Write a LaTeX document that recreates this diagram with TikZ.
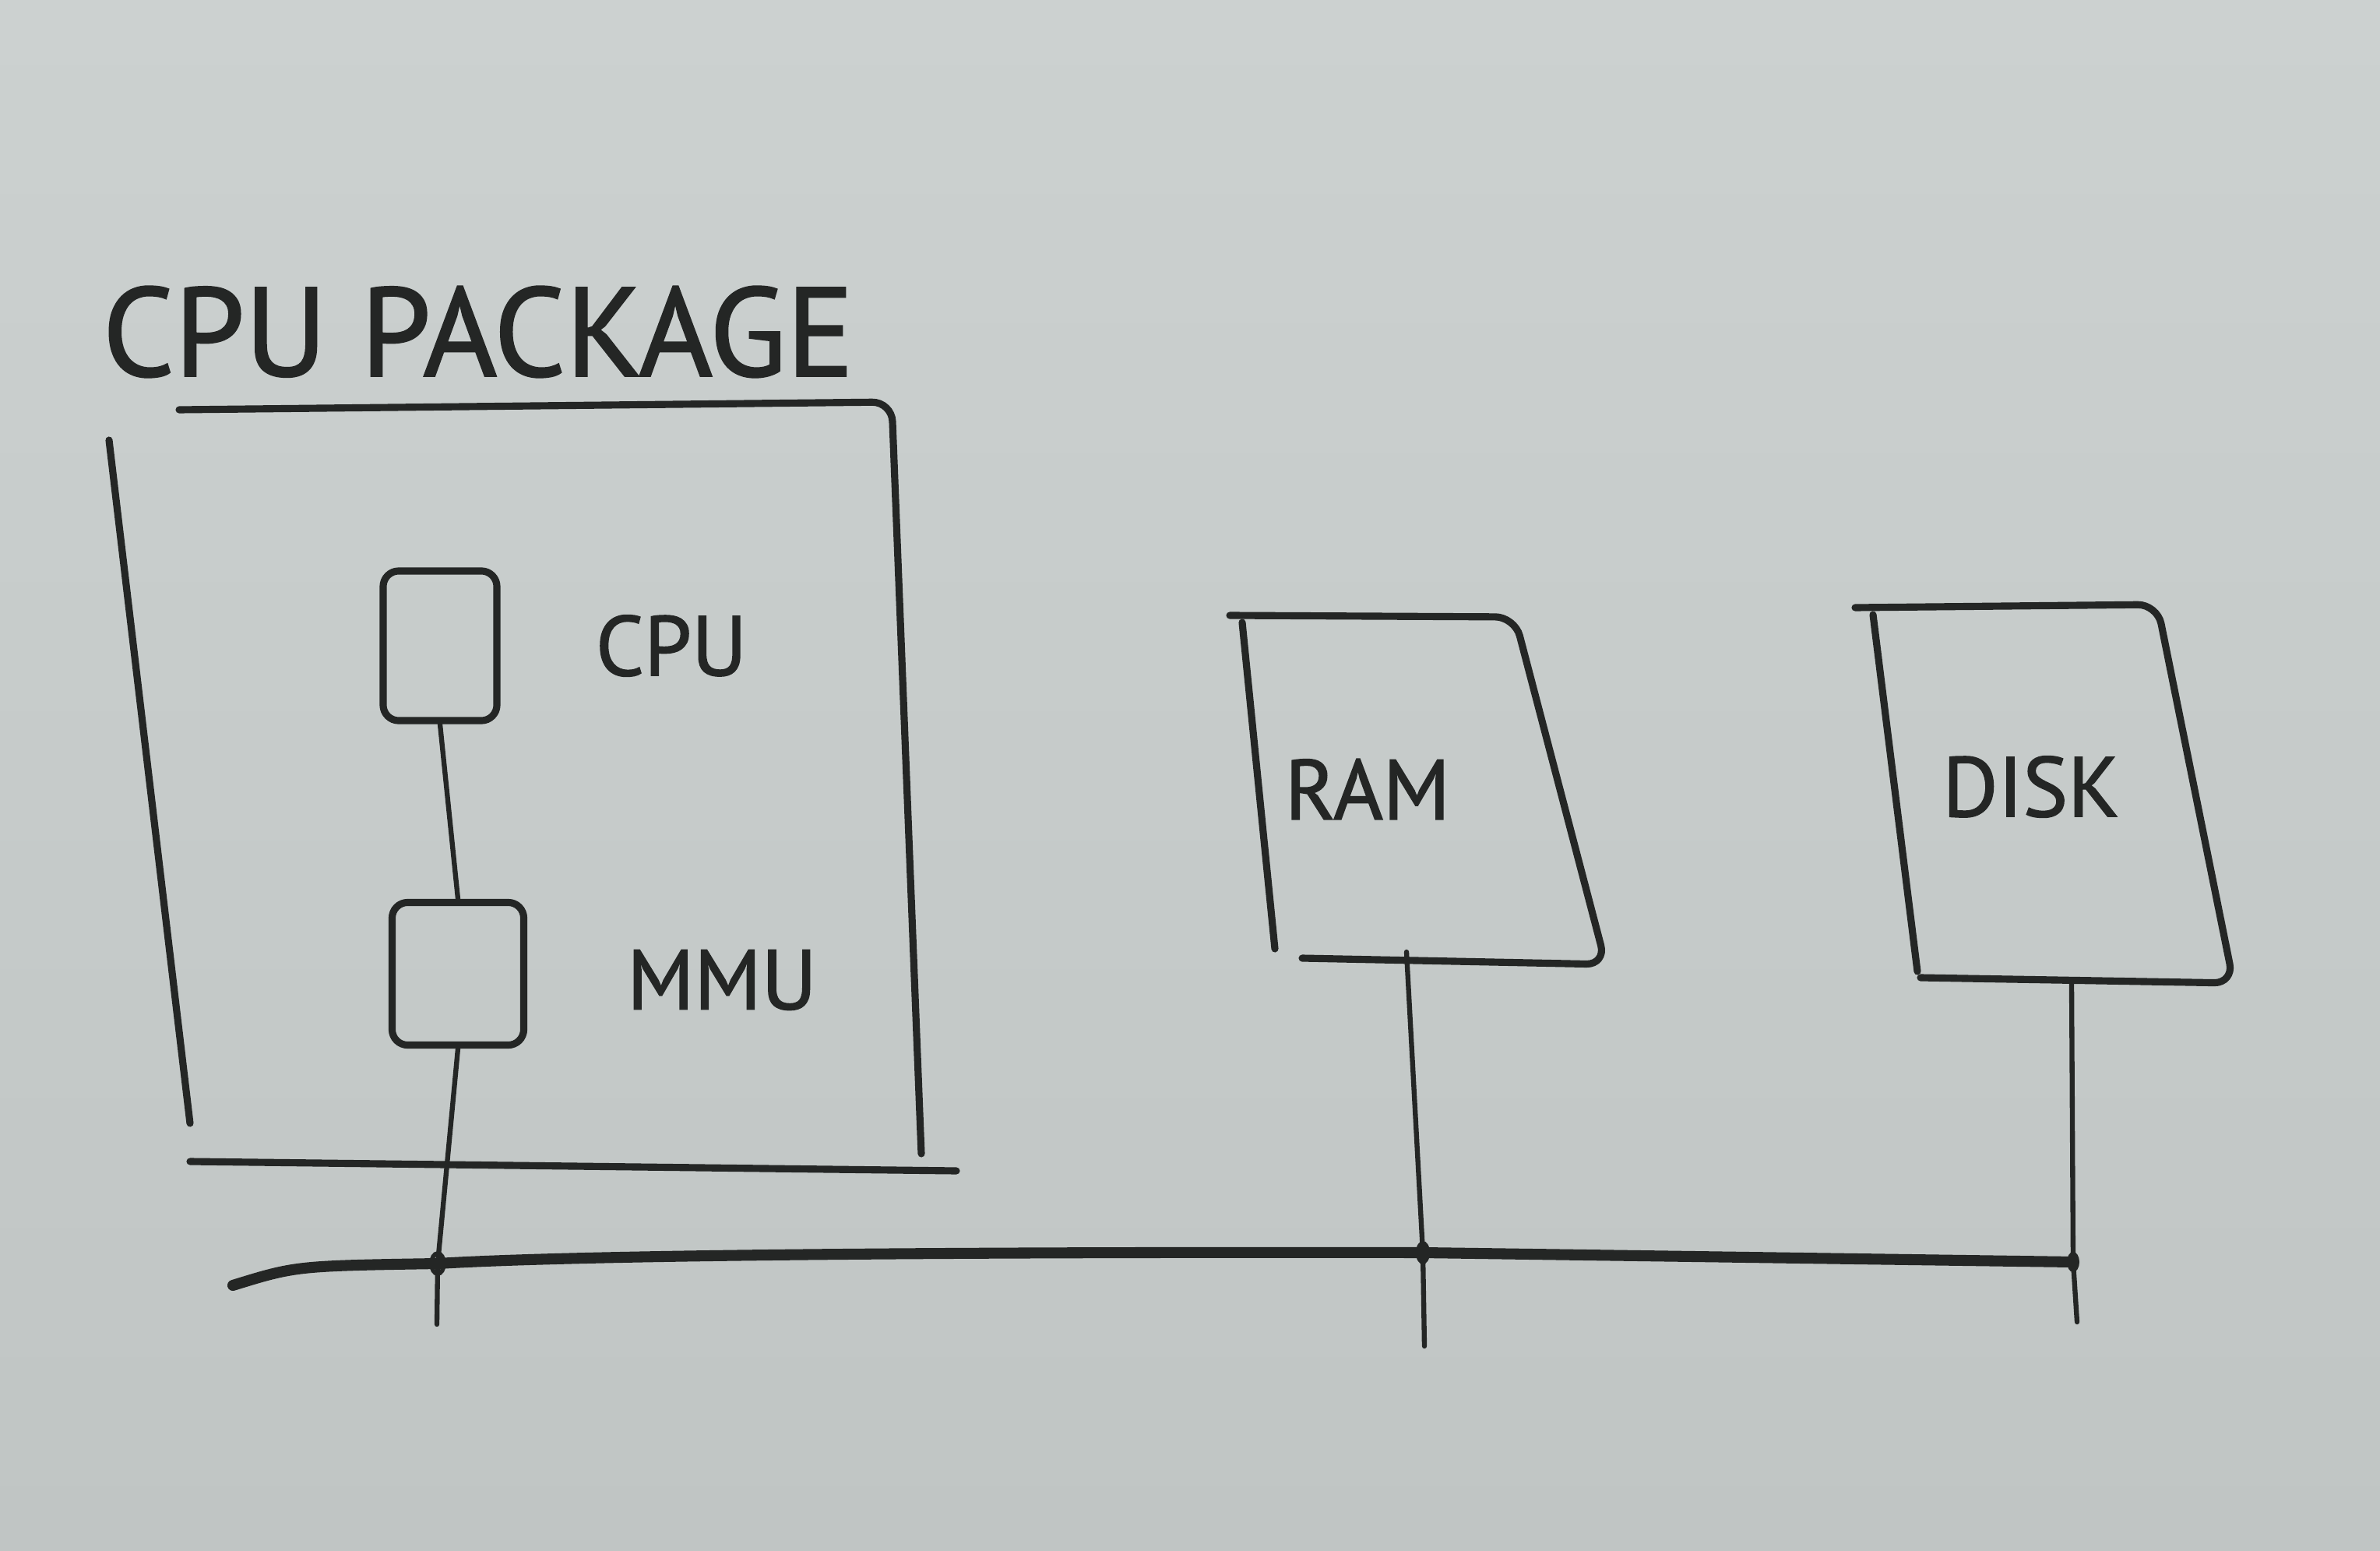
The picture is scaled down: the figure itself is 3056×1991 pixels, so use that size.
\documentclass[tikz,border=0pt]{standalone}
\usepackage{fontspec}
\setmainfont{PT Sans}
\newfontfamily\penfont{PT Sans}[FakeBold=1.4]
\usepackage{xcolor}
\usepackage{tikz}

\definecolor{boardtop}{RGB}{204,209,208}
\definecolor{boardbot}{RGB}{192,197,196}
\definecolor{marker}{RGB}{36,38,37}

\tikzset{
    pen/.style={draw=marker, line width=2.6pt, line cap=round, line join=round, rounded corners=0.25cm},
    wire/.style={draw=marker, line width=1.8pt, line cap=round},
    busline/.style={draw=marker, line width=4pt, line cap=round},
    chip/.style={draw=marker, line width=2.6pt, rounded corners=0.2cm, inner sep=0pt},
    lbl/.style={text=marker, inner sep=0pt, font=\fontsize{31}{34}\penfont}
}

\begin{document}
\begin{tikzpicture}[x=0.01cm, y=-0.01cm]
    \shade[top color=boardtop, bottom color=boardbot] (0,0) rectangle (3056,1991);
    \useasboundingbox (0,0) rectangle (3056,1991);

    % CPU package
    \node[lbl, font=\fontsize{46}{50}\penfont] (pkgtitle) at (614,426) {CPU PACKAGE};
    \draw[pen] (230,526) -- (1145,516) -- (1183,1481);
    \draw[pen] (140,565) -- (244,1442);
    \draw[pen] (244,1491) -- (1228,1503);

    \node[chip, minimum width=1.46cm, minimum height=1.92cm] (cpu) at (565,829) {};
    \node[lbl] (cpulbl) at (862,829) {CPU};
    \node[chip, minimum width=1.69cm, minimum height=1.83cm] (mmu) at (588,1250) {};
    \node[lbl] (mmulbl) at (927,1258) {MMU};
    \draw[wire] (cpu.south) -- (mmu.north);

    % RAM and disk
    \draw[pen] (1595,799) -- (1637,1218);
    \draw[pen] (1579,790) -- (1945,792) -- (2062,1238) -- (1672,1230);
    \node[lbl] (ramlbl) at (1756,1013) {RAM};
    \draw[pen] (2405,789) -- (2462,1247);
    \draw[pen] (2382,780) -- (2770,776) -- (2868,1262) -- (2466,1255);
    \node[lbl] (disklbl) at (2608,1010) {DISK};

    % bus
    \coordinate (busL) at (299,1650);
    \coordinate (jm) at (562,1622);
    \coordinate (jr) at (1827,1608);
    \coordinate (jd) at (2662,1620);
    \draw[busline] (busL) .. controls (380,1625) .. (jm)
        .. controls (760,1610) and (1300,1607) .. (jr) -- (jd);

    \coordinate (ramtop) at (1806,1222);
    \coordinate (ramend) at (1829,1728);
    \coordinate (disktop) at (2660,1262);
    \coordinate (diskend) at (2667,1697);
    \coordinate (mmuend) at (561,1700);
    \draw[wire] (mmu.south) -- (jm) -- (mmuend);
    \draw[wire] (ramtop) -- (jr) -- (ramend);
    \draw[wire] (disktop) -- (jd) -- (diskend);
    \draw[marker, line width=1.6pt] (jm) ellipse (0.08cm and 0.13cm);
    \fill[marker] (jr) ellipse (0.09cm and 0.15cm);
    \fill[marker] (jd) ellipse (0.08cm and 0.13cm);
\end{tikzpicture}
\end{document}
